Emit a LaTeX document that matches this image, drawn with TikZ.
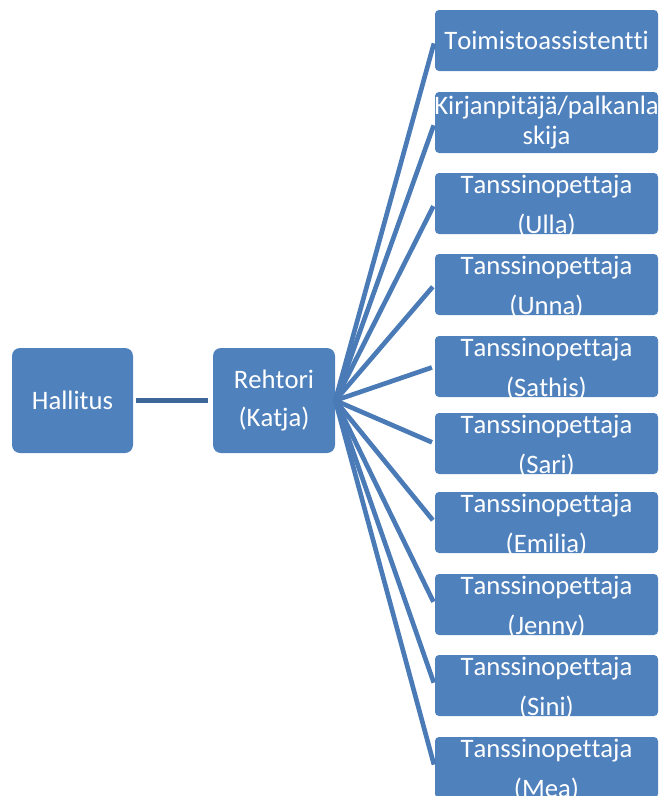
\documentclass[tikz,border=0pt]{standalone}
\usepackage{fontspec}
\setmainfont[Ligatures=NoCommon,Kerning=Off]{Carlito}
\definecolor{boxblue}{HTML}{4F81BD}
\definecolor{fanblue}{HTML}{4A7BB7}
\definecolor{linkblue}{HTML}{3D6699}
\begin{document}
\begin{tikzpicture}[x=0.75pt,y=-0.75pt,
  bigbox/.style={fill=boxblue, rounded corners=6pt, inner sep=0pt, minimum height=78.75pt},
  smallbox/.style={fill=boxblue, rounded corners=3pt, inner sep=0pt, minimum width=167.25pt, minimum height=45.75pt},
  txt/.style={text=white, align=center, inner sep=0pt, font=\fontsize{20}{30}\selectfont},
  fan/.style={draw=fanblue, line width=3.5pt, shorten >=2.25pt},
  link/.style={draw=linkblue, line width=3.75pt}]
\useasboundingbox (0,0) rectangle (660,796);
\clip (0,0) rectangle (660,796);
% main boxes
\node[bigbox, minimum width=90.75pt] (h) at (72.5,400.5) {};
\node[bigbox, minimum width=91.5pt] (r) at (274,400.5) {};
\node[txt] (th) at (h.center) {Hallitus};
\node[txt, font=\fontsize{20}{28.5}\selectfont] (tr) at (r.center) {Rehtori\\ (Katja)};
% right boxes
\node[smallbox] (b1) at (546.5,40.5) {};
\node[smallbox] (b2) at (546.5,122.5) {};
\node[smallbox] (b3) at (546.5,203.5) {};
\node[smallbox] (b4) at (546.5,284.5) {};
\node[smallbox] (b5) at (546.5,366.5) {};
\node[smallbox] (b6) at (546.5,443.5) {};
\node[smallbox] (b7) at (546.5,522.5) {};
\node[smallbox] (b8) at (546.5,604.5) {};
\node[smallbox] (b9) at (546.5,685.5) {};
\node[smallbox] (b10) at (546.5,767.5) {};
\node[txt] (t1) at (b1.center) {Toimistoassistentti};
\node[txt, font=\fontsize{20}{22.5}\selectfont] (t2) at (b2.center) {Kirjanpitäjä/palkanla\\skija};
\node[txt, yshift=-2.25pt] (t3) at (b3.center) {Tanssinopettaja\\(Ulla)};
\node[txt, yshift=-2.25pt] (t4) at (b4.center) {Tanssinopettaja\\(Unna)};
\node[txt, yshift=-2.25pt] (t5) at (b5.center) {Tanssinopettaja\\(Sathis)};
\node[txt, yshift=-2.25pt] (t6) at (b6.center) {Tanssinopettaja\\(Sari)};
\node[txt, yshift=-2.25pt] (t7) at (b7.center) {Tanssinopettaja\\(Emilia)};
\node[txt, yshift=-2.25pt] (t8) at (b8.center) {Tanssinopettaja\\(Jenny)};
\node[txt, yshift=-2.25pt] (t9) at (b9.center) {Tanssinopettaja\\(Sini)};
\node[txt, yshift=-2.25pt] (t10) at (b10.center) {Tanssinopettaja\\(Mea)};
% connectors
\draw[link, shorten <=2.25pt, shorten >=3.75pt] (h) -- (r);
\foreach \i in {1,...,10} \draw[fan] (r.east) -- (b\i.west);
\end{tikzpicture}
\end{document}
